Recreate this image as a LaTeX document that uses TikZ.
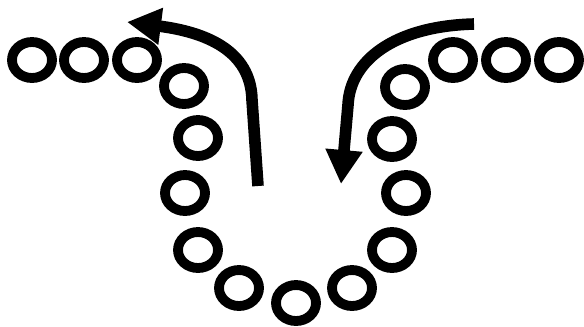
\documentclass[tikz,border=0pt]{standalone}
\usepackage{tikz}
\usetikzlibrary{shapes,arrows,positioning,calc,arrows.meta}

\begin{document}
\begin{tikzpicture}[
      x=0.02cm, y=-0.02cm,
      bead/.style={ellipse, draw=black, line width=5.6pt, minimum width=0.8cm, minimum height=0.72cm, inner sep=0pt},
      arrow/.style={line width=6.6pt, -{Triangle[length=0.68cm, width=0.7cm]}},
    ]
    \useasboundingbox (0,0) rectangle (584,326);
    % left row and left side
    \node [bead] (l1) at (32, 60) {};
    \node [bead] (l2) at (84, 60) {};
    \node [bead] (l3) at (137, 60) {};
    \node [bead] (l4) at (184, 86) {};
    \node [bead] (l5) at (198, 138) {};
    \node [bead] (l6) at (185, 193) {};
    \node [bead] (l7) at (198, 250) {};
    \node [bead] (l8) at (239, 288) {};
    % bottom
    \node [bead] (bottom) at (296, 303) {};
    % right side and right row
    \node [bead] (r8) at (352, 288) {};
    \node [bead] (r7) at (392, 250) {};
    \node [bead] (r6) at (406, 193) {};
    \node [bead] (r5) at (392, 139) {};
    \node [bead] (r4) at (405, 87) {};
    \node [bead] (r3) at (453, 60) {};
    \node [bead] (r2) at (506, 60) {};
    \node [bead] (r1) at (559, 60) {};
    % arrows
    \coordinate (lstart) at (258, 186);
    \coordinate (lbend) at (252, 100);
    \coordinate (ltip) at (127, 22);
    \coordinate (rstart) at (474, 24);
    \coordinate (rbend) at (348, 105);
    \coordinate (rtip) at (341, 184);
    \draw [arrow] (lstart) -- (lbend) .. controls (251, 50) and (205, 32) .. (ltip);
    \draw [arrow] (rstart) .. controls (395, 26) and (350, 60) .. (rbend) -- (rtip);
  \end{tikzpicture}
\end{document}
